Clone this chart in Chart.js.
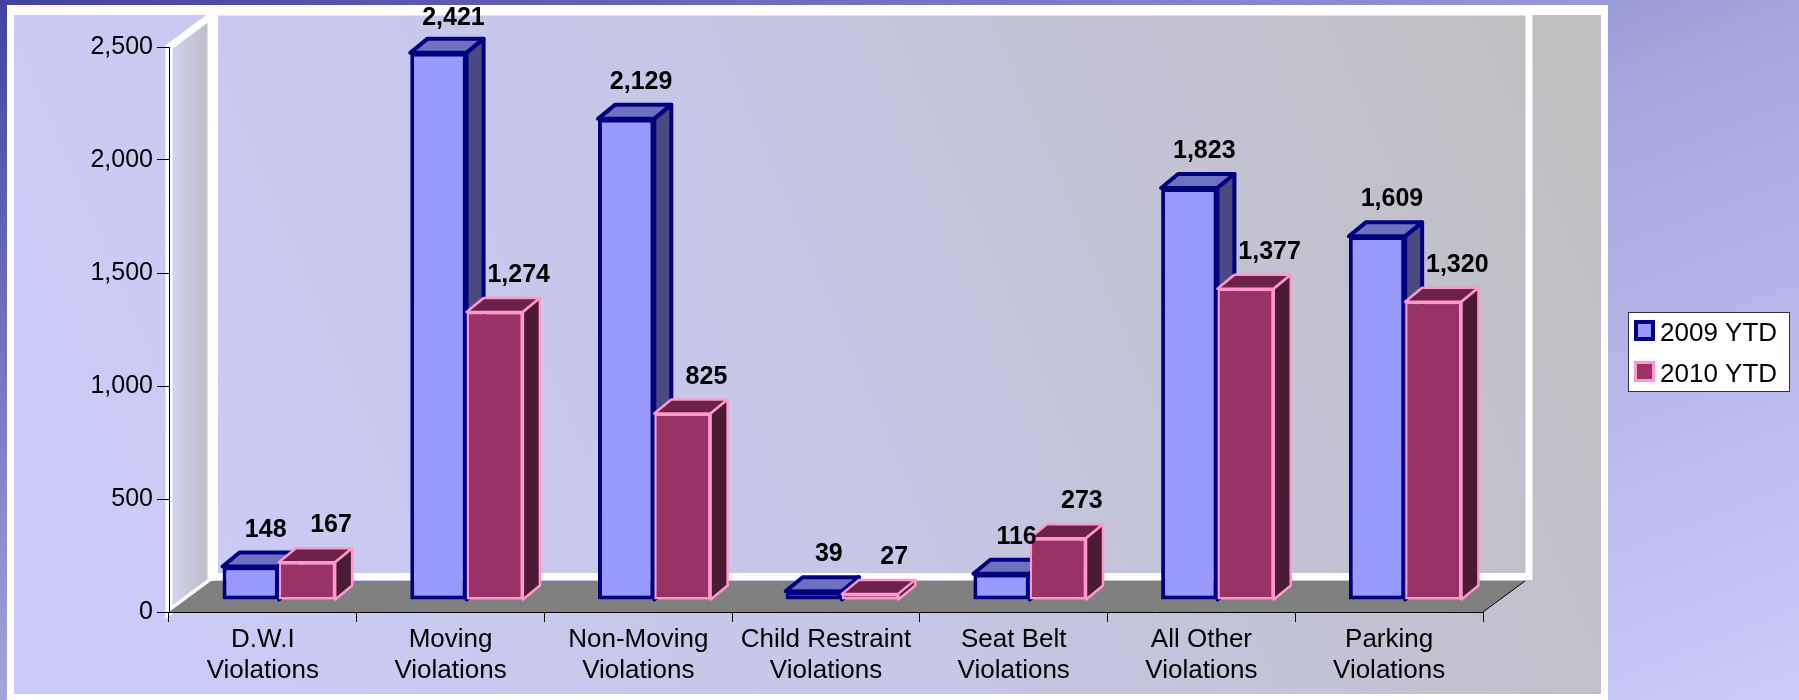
<!DOCTYPE html>
<html>
<head>
<meta charset="utf-8">
<title>Violations 2009 YTD vs 2010 YTD</title>
<script src="https://cdn.jsdelivr.net/npm/chart.js@4.4.1/dist/chart.umd.min.js"></script>
<style>
  html, body { margin: 0; padding: 0; overflow: hidden; }
  body {
    width: 1799px; height: 700px;
    background: linear-gradient(to bottom right, #4242a0 0%, #a4a4dc 50%, #ccccfa 100%);
  }
  #wrap { position: relative; width: 1799px; height: 700px; }
</style>
</head>
<body>
<div id="wrap"><canvas id="violationsChart"></canvas></div>
<script>
const categories = [
  ['D.W.I', 'Violations'],
  ['Moving', 'Violations'],
  ['Non-Moving', 'Violations'],
  ['Child Restraint', 'Violations'],
  ['Seat Belt', 'Violations'],
  ['All Other', 'Violations'],
  ['Parking', 'Violations']
];
const seriesNames = ['2009 YTD', '2010 YTD'];
const values2009 = [148, 2421, 2129, 39, 116, 1823, 1609];
const values2010 = [167, 1274, 825, 27, 273, 1377, 1320];
const yTicks = [0, 500, 1000, 1500, 2000, 2500];

Chart.defaults.font.family = "'Liberation Sans', Arial, sans-serif";
Chart.defaults.color = '#000';

// fake 3d settings
const wallDepth = { dx: 42, dy: -31 };
const barShift = { dx: 16, dy: -12 };
const barDepth = { dx: 17, dy: -14 };
const faces = [
  { top: '#7070c0', side: '#4a4a80', line: '#000080', lw: 4 },
  { top: '#6c2248', side: '#4b1a33', line: '#ff99cc', lw: 2.5 }
];
const labelNudge = [15, 24];

function poly(ctx, pts) {
  ctx.beginPath();
  ctx.moveTo(pts[0][0], pts[0][1]);
  for (let i = 1; i < pts.length; i++) ctx.lineTo(pts[i][0], pts[i][1]);
  ctx.closePath();
}

// frame, walls and floor behind the axes
const scenery = {
  id: 'scenery',
  beforeDraw(chart) {
    const ctx = chart.ctx;
    const a = chart.chartArea;
    const dx = wallDepth.dx, dy = wallDepth.dy;
    ctx.save();
    ctx.fillStyle = '#ffffff';
    ctx.fillRect(7, 5, 1601, 700);
    const g = ctx.createLinearGradient(14, 694, 1601, 15);
    g.addColorStop(0, '#ccccfb');
    g.addColorStop(0.5, '#c6c6e6');
    g.addColorStop(1, '#bfbfbf');
    ctx.fillStyle = g;
    ctx.fillRect(14, 15, 1587, 679);

    // side wall
    const sg = ctx.createLinearGradient(a.left, 0, a.left + dx, 0);
    sg.addColorStop(0, '#d4d4f4');
    sg.addColorStop(1, '#bcbcc2');
    poly(ctx, [[a.left, a.top], [a.left + dx, a.top + dy], [a.left + dx, a.bottom + dy], [a.left, a.bottom]]);
    ctx.fillStyle = sg;
    ctx.fill();
    ctx.strokeStyle = '#ffffff';
    ctx.lineWidth = 7;
    ctx.lineJoin = 'miter';
    ctx.stroke();

    // back wall outline
    ctx.strokeRect(a.left + dx + 3.5, a.top + dy - 4, a.right - a.left + 0.5, a.bottom - a.top - 0.5);

    // floor
    poly(ctx, [[a.left, a.bottom], [a.left + dx, a.bottom + dy], [a.right + dx, a.bottom + dy], [a.right, a.bottom]]);
    ctx.fillStyle = '#808080';
    ctx.fill();
    ctx.beginPath();
    ctx.moveTo(a.right, a.bottom);
    ctx.lineTo(a.right + dx, a.bottom + dy);
    ctx.strokeStyle = '#000000';
    ctx.lineWidth = 1;
    ctx.stroke();
    ctx.restore();
  }
};

function drawFaces(ctx, bar, f) {
  const dx = barDepth.dx, dy = barDepth.dy;
  const p = bar.getProps(['x', 'y', 'base', 'width'], true);
  const L = p.x - p.width / 2, R = p.x + p.width / 2, T = p.y, B = p.base;
  ctx.lineWidth = f.lw;
  ctx.lineJoin = 'round';
  ctx.strokeStyle = f.line;
  poly(ctx, [[L, T], [L + dx, T + dy], [R + dx, T + dy], [R, T]]);
  ctx.fillStyle = f.top;
  ctx.fill();
  ctx.stroke();
  poly(ctx, [[R, T], [R + dx, T + dy], [R + dx, B + dy], [R, B]]);
  ctx.fillStyle = f.side;
  ctx.fill();
  ctx.stroke();
}

// push bars back into the box and give them a top and a side;
// the right bar of each pair is drawn again so it hides the left bar's side
const bars3d = {
  id: 'bars3d',
  beforeDatasetsDraw(chart) {
    chart.ctx.save();
    chart.ctx.translate(barShift.dx, barShift.dy);
  },
  afterDatasetsDraw(chart) {
    const ctx = chart.ctx;
    const left = chart.getDatasetMeta(0).data;
    const right = chart.getDatasetMeta(1).data;
    left.forEach((bar, j) => {
      ctx.save();
      drawFaces(ctx, bar, faces[0]);
      ctx.restore();
      ctx.save();
      right[j].draw(ctx);
      ctx.restore();
      ctx.save();
      drawFaces(ctx, right[j], faces[1]);
      ctx.restore();
    });
    ctx.restore();
  }
};

// value labels and the legend box
const overlay = {
  id: 'overlay',
  afterDraw(chart) {
    const ctx = chart.ctx;
    ctx.save();
    ctx.fillStyle = '#000';
    ctx.font = "bold 25px 'Liberation Sans', Arial, sans-serif";
    ctx.textAlign = 'center';
    ctx.textBaseline = 'alphabetic';
    chart.data.datasets.forEach((ds, i) => {
      chart.getDatasetMeta(i).data.forEach((bar, j) => {
        const x = bar.x + barShift.dx + labelNudge[i];
        const y = bar.y + barShift.dy - 30;
        ctx.fillText(ds.data[j].toLocaleString('en-US'), x, Math.max(y, 25));
      });
    });

    // legend
    const lx = 1628, ly = 312, lw = 161, lh = 79;
    ctx.fillStyle = '#ffffff';
    ctx.fillRect(lx, ly, lw, lh);
    ctx.strokeStyle = '#333333';
    ctx.lineWidth = 1;
    ctx.strokeRect(lx + 0.5, ly + 0.5, lw, lh);
    ctx.font = "26px 'Liberation Sans', Arial, sans-serif";
    ctx.textAlign = 'left';
    chart.data.datasets.forEach((ds, i) => {
      const sy = ly + 8 + i * 41;
      ctx.fillStyle = ds.borderColor;
      ctx.fillRect(lx + 6, sy, 21, 21);
      const b = i === 0 ? 4 : 3;
      ctx.fillStyle = ds.backgroundColor;
      ctx.fillRect(lx + 6 + b, sy + b, 21 - 2 * b, 21 - 2 * b);
      ctx.fillStyle = '#000';
      ctx.fillText(ds.label, lx + 32, sy + 21);
    });
    ctx.restore();
  }
};

const violationsChart = new Chart(document.getElementById('violationsChart'), {
  type: 'bar',
  data: {
    labels: categories,
    datasets: [
      {
        label: seriesNames[0],
        data: values2009,
        backgroundColor: '#9999ff',
        borderColor: '#000080',
        borderWidth: 4,
        borderSkipped: false,
        clip: false
      },
      {
        label: seriesNames[1],
        data: values2010,
        backgroundColor: '#993366',
        borderColor: '#ff99cc',
        borderWidth: 2.5,
        borderSkipped: false,
        clip: false
      }
    ]
  },
  options: {
    responsive: true,
    maintainAspectRatio: false,
    animation: false,
    layout: { padding: { left: 0, right: 316, top: 47, bottom: 0 } },
    datasets: { bar: { categoryPercentage: 0.6, barPercentage: 1.0 } },
    plugins: {
      legend: { display: false },
      tooltip: { enabled: false }
    },
    scales: {
      x: {
        grid: { offset: true, drawOnChartArea: false, drawTicks: true, tickLength: 10, color: '#000', lineWidth: 1 },
        border: { color: '#000', width: 1 },
        ticks: { color: '#000', font: { size: 26, lineHeight: 1.2 }, padding: 2, maxRotation: 0, autoSkip: false },
        afterFit(s) { s.height = 88; }
      },
      y: {
        min: 0,
        max: 2500,
        afterBuildTicks(s) { s.ticks = yTicks.map(v => ({ value: v })); },
        grid: { drawOnChartArea: false, drawTicks: true, tickLength: 12, color: '#000', lineWidth: 1 },
        border: { color: '#000', width: 1 },
        ticks: { color: '#000', font: { size: 25 }, padding: 4, callback: v => v.toLocaleString('en-US') },
        afterFit(s) { s.width = 169; }
      }
    }
  },
  plugins: [scenery, bars3d, overlay]
});
</script>
</body>
</html>
